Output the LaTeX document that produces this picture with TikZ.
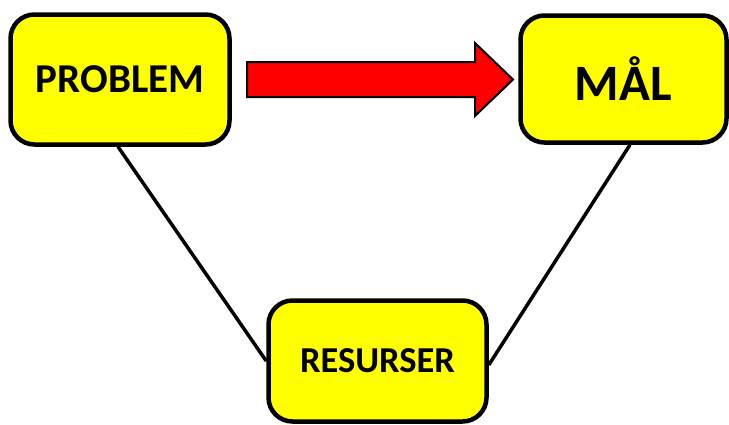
\documentclass[tikz,border=0pt]{standalone}
\usepackage{fontspec}
\setmainfont{Carlito}
\usetikzlibrary{backgrounds}
\definecolor{boxyellow}{RGB}{255,255,0}
\definecolor{arrowred}{RGB}{255,0,0}
\begin{document}
\begin{tikzpicture}[x=1pt,y=-1pt,
  box/.style={draw=black,line width=4.5pt,fill=boxyellow,rounded corners=24pt,inner sep=0pt},
  link/.style={draw=black,line width=3.5pt},
  bigarrow/.style={draw=black,line width=2pt,fill=arrowred,line join=miter}]
\useasboundingbox (0,0) rectangle (729,424);
\node[box,minimum width=219pt,minimum height=130pt,font=\bfseries\fontsize{41}{44}\selectfont] (problem) at (120,79.5) {PROBLEM};
\node[box,minimum width=206pt,minimum height=127pt,font=\bfseries\fontsize{51}{54}\selectfont] (mal) at (623.5,79) {MÅL};
\node[box,minimum width=218pt,minimum height=121pt,font=\bfseries\fontsize{36.5}{40}\selectfont] (res) at (377.5,361) {RESURSER};
\draw[bigarrow] (247,62) -- (475,62) -- (475,43) -- (513,79.5) -- (475,116) -- (475,97) -- (247,97) -- cycle;
\begin{scope}[on background layer]
\draw[link] ([xshift=-2pt]problem.south) -- (res.west);
\draw[link] ([xshift=6.5pt]mal.south) -- ([yshift=-4pt]res.east);
\end{scope}
\end{tikzpicture}
\end{document}
